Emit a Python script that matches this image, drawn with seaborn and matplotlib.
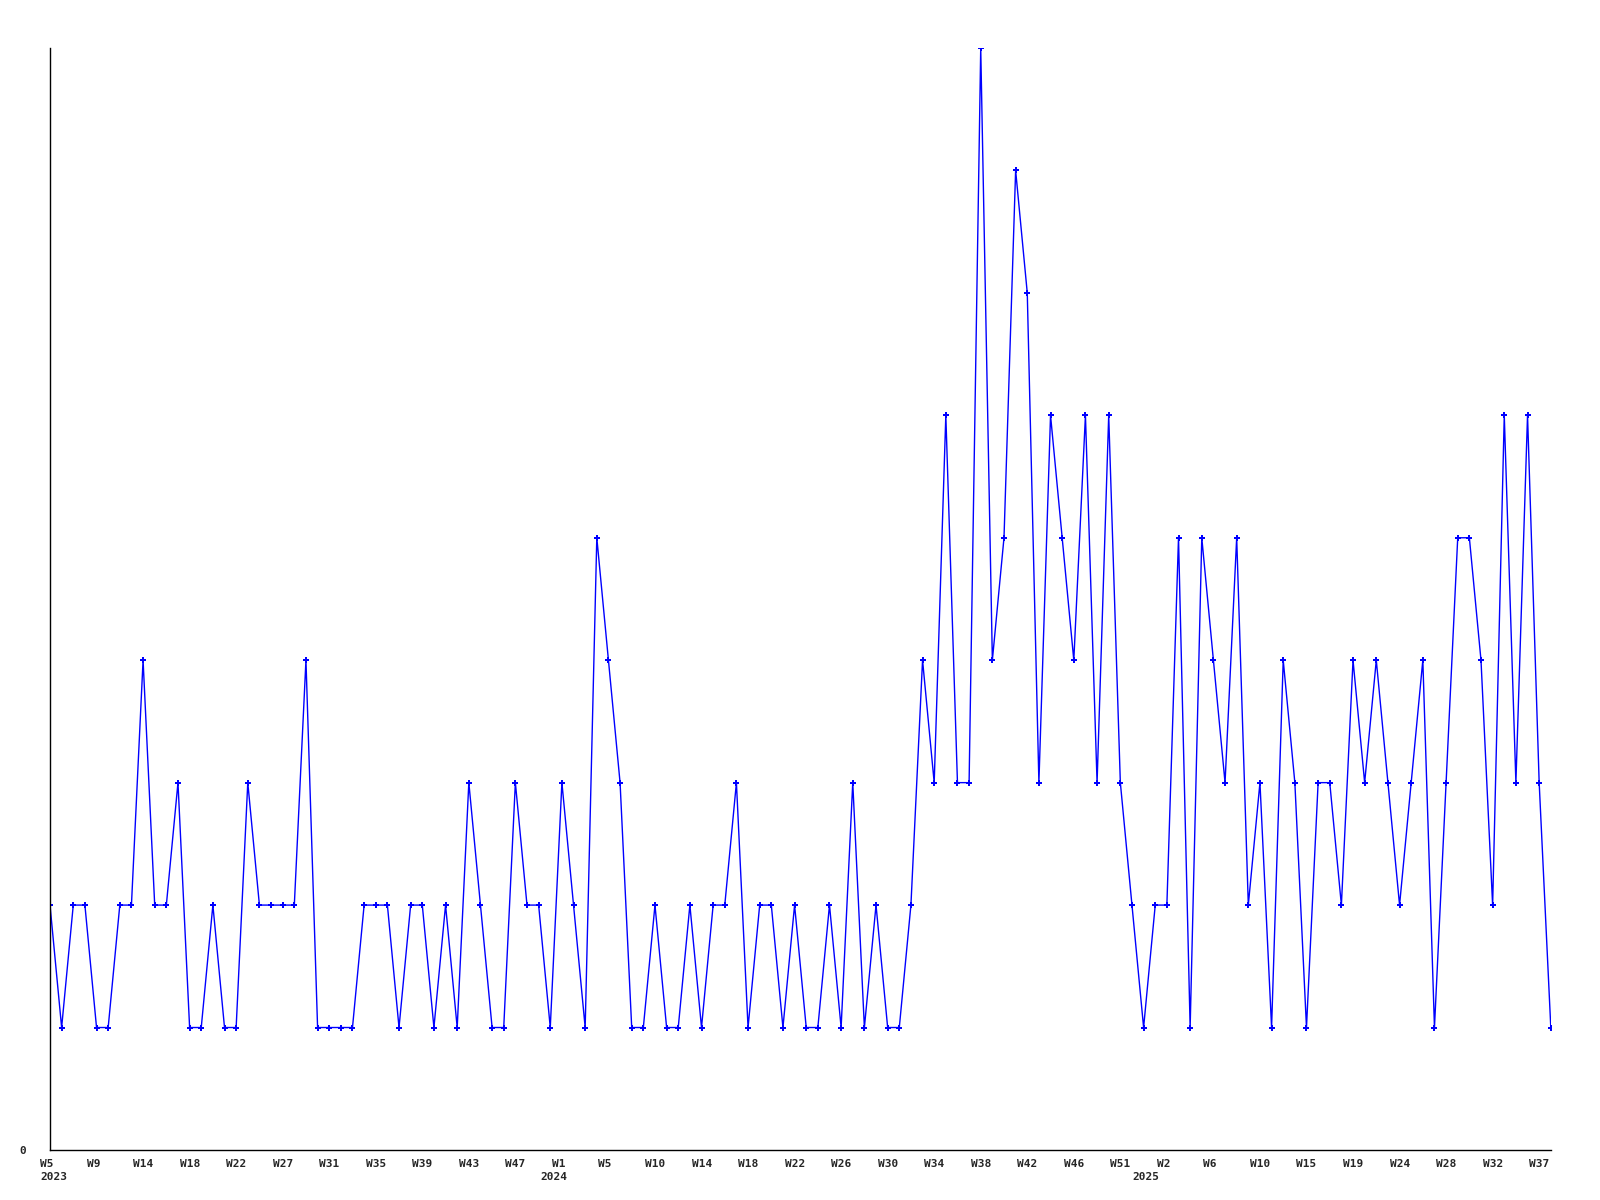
import matplotlib

matplotlib.use("agg")
import matplotlib.pyplot as plt
import matplotlib.transforms as mtransforms
import seaborn as sns

# weekly counts, 2023 W5 .. 2025 W38 (weeks with data only)
counts = [
    2, 1, 2, 2, 1, 1, 2, 2, 4, 2, 2, 3, 1, 1, 2, 1, 1, 3, 2, 2,
    2, 2, 4, 1, 1, 1, 1, 2, 2, 2, 1, 2, 2, 1, 2, 1, 3, 2, 1, 1,
    3, 2, 2, 1, 3, 2, 1, 5, 4, 3, 1, 1, 2, 1, 1, 2, 1, 2, 2, 3,
    1, 2, 2, 1, 2, 1, 1, 2, 1, 3, 1, 2, 1, 1, 2, 4, 3, 6, 3, 3,
    9, 4, 5, 8, 7, 3, 6, 5, 4, 6, 3, 6, 3, 2, 1, 2, 2, 5, 1, 5,
    4, 3, 5, 2, 3, 1, 4, 3, 1, 3, 3, 2, 4, 3, 4, 3, 2, 3, 4, 1,
    3, 5, 5, 4, 2, 6, 3, 6, 3, 1,
]
positions = list(range(len(counts)))

# every 4th point gets a week label
tick_labels = [
    "W5", "W9", "W14", "W18", "W22", "W27", "W31", "W35", "W39", "W43", "W47",
    "W1", "W5", "W10", "W14", "W18", "W22", "W26", "W30", "W34", "W38", "W42",
    "W46", "W51", "W2", "W6", "W10", "W15", "W19", "W24", "W28", "W32", "W37",
]
tick_positions = [i * 4 for i in range(len(tick_labels))]
years = ["2023", "2024", "2025"]
year_positions = [0.3, 43.3, 94.2]

sns.set_theme(style="white")
plt.rcParams["font.family"] = ["DejaVu Sans Mono", "DejaVu Sans"]

fig = plt.figure(figsize=(16, 12), dpi=100)
ax = fig.add_axes([0.03125, 0.0417, 0.938, 0.9183])

sns.lineplot(
    x=positions,
    y=counts,
    ax=ax,
    color="#0000ff",
    linewidth=1,
    marker="P",
    markersize=5,
    markeredgewidth=0,
    markerfacecolor="#0000ff",
)

ax.set_xlim(0, len(counts) - 1)
ax.set_ylim(0, 9)
ax.set_xlabel("")
ax.set_ylabel("")

for side in ["top", "right"]:
    ax.spines[side].set_visible(False)
for side in ["left", "bottom"]:
    ax.spines[side].set_color("black")
    ax.spines[side].set_linewidth(1)

ax.set_xticks(tick_positions)
ax.set_xticklabels(tick_labels, fontsize=8, fontweight="bold")
ax.set_yticks([0])
ax.set_yticklabels(["0"], fontsize=8, fontweight="bold")
ax.tick_params(axis="x", length=0, pad=6.5)
ax.tick_params(axis="y", length=0, pad=17)

# week labels start a little left of their point
shift = mtransforms.ScaledTranslation(-10 / 100, 0, fig.dpi_scale_trans)
for lbl in ax.get_xticklabels():
    lbl.set_horizontalalignment("left")
    lbl.set_transform(lbl.get_transform() + shift)

# year labels under the first week of each year
trans = mtransforms.blended_transform_factory(ax.transData, ax.transAxes)
for pos, year in zip(year_positions, years):
    ax.annotate(
        year,
        xy=(pos, 0),
        xycoords=trans,
        xytext=(0, -19.5),
        textcoords="offset points",
        ha="center",
        va="center",
        fontsize=8,
        fontweight="bold",
        annotation_clip=False,
    )

fig.savefig("out.png", dpi=100)
